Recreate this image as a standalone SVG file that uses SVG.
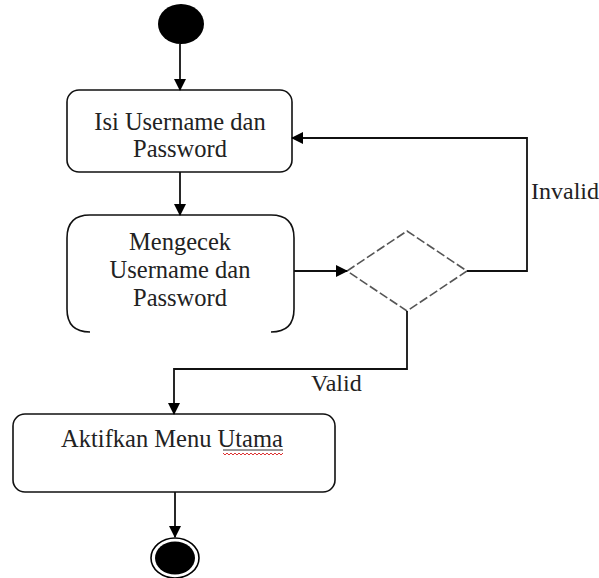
<svg xmlns="http://www.w3.org/2000/svg" width="599" height="578" viewBox="0 0 599 578">
<style>
.box{fill:#fff;stroke:#111;stroke-width:1.6}
.t{font-family:"Liberation Serif","Times New Roman",serif;font-size:24.5px;fill:#222;text-anchor:middle}
.lbl{font-family:"Liberation Serif","Times New Roman",serif;font-size:24px;fill:#222}
.c{fill:none;stroke:#111;stroke-width:1.8}
</style>
<defs>
<marker id="ah" markerWidth="12" markerHeight="12" refX="11" refY="6" orient="auto" markerUnits="userSpaceOnUse">
<path d="M0,0 L12,6 L0,12 Z" fill="#000"/>
</marker>
</defs>
<rect width="599" height="578" fill="#fff"/>
<g id="start"><ellipse cx="181" cy="24" rx="23" ry="20" fill="#000"/></g>
<g id="isi">
<rect class="box" x="67" y="90" width="225" height="82" rx="12"/>
<text class="t" x="180" y="130">Isi Username dan</text>
<text class="t" x="180" y="157">Password</text>
</g>
<g id="cek">
<path fill="none" stroke="#111" stroke-width="1.6" d="M90,332 Q67,332 67,309 L67,238 Q67,215 90,215 L271,215 Q294,215 294,238 L294,309 Q294,332 271,332"/>
<text class="t" x="180" y="250">Mengecek</text>
<text class="t" x="180" y="278">Username dan</text>
<text class="t" x="180" y="306">Password</text>
</g>
<g id="decision">
<polygon points="347,271 407,231 467,271 407,311" fill="#fff" stroke="#555" stroke-width="1.6" stroke-dasharray="9,3"/>
</g>
<g id="aktif">
<rect class="box" x="13" y="414" width="322" height="78" rx="12"/>
<text class="t" x="172" y="447">Aktifkan Menu Utama</text>
<path d="M223,450 L283,450" stroke="#333" stroke-width="1" fill="none"/>
<path d="M223,453 l2,2 l2,-2 l2,2 l2,-2 l2,2 l2,-2 l2,2 l2,-2 l2,2 l2,-2 l2,2 l2,-2 l2,2 l2,-2 l2,2 l2,-2 l2,2 l2,-2 l2,2 l2,-2 l2,2 l2,-2 l2,2 l2,-2 l2,2 l2,-2 l2,2 l2,-2 l2,2 l2,-2" stroke="#d33" stroke-width="1" fill="none"/>
</g>
<g id="end">
<ellipse cx="175" cy="558" rx="24" ry="20" fill="#fff" stroke="#000" stroke-width="1.6"/>
<ellipse cx="175" cy="558" rx="20" ry="16.5" fill="#000"/>
</g>
<g id="connectors">
<path class="c" d="M180,44 L180,90" marker-end="url(#ah)"/>
<path class="c" d="M180,172 L180,215" marker-end="url(#ah)"/>
<path class="c" d="M294,271 L347,271" marker-end="url(#ah)"/>
<path class="c" d="M467,271 L527,271 L527,138 L292,138" marker-end="url(#ah)"/>
<path class="c" d="M407,311 L407,369 L174,369 L174,414" marker-end="url(#ah)"/>
<path class="c" d="M175,492 L175,537" marker-end="url(#ah)"/>
<text class="lbl" x="531" y="199">Invalid</text>
<text class="lbl" x="311" y="391">Valid</text>
</g>
</svg>
